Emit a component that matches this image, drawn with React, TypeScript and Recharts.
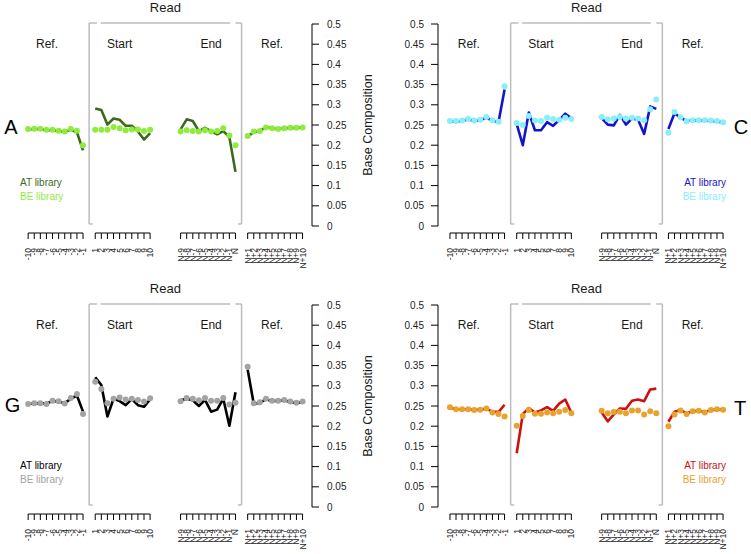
import { ComposedChart, Line, XAxis, YAxis, ReferenceLine, ReferenceDot, Legend } from "recharts";

// positions on the read: 10 before the read, first 10, last 10, 10 after
const tickLabels = [
  "-10", "-9", "-8", "-7", "-6", "-5", "-4", "-3", "-2", "-1",
  "1", "2", "3", "4", "5", "6", "7", "8", "9", "10",
  "N-9", "N-8", "N-7", "N-6", "N-5", "N-4", "N-3", "N-2", "N-1", "N",
  "N+1", "N+2", "N+3", "N+4", "N+5", "N+6", "N+7", "N+8", "N+9", "N+10",
];
const yTicks = [0, 0.05, 0.1, 0.15, 0.2, 0.25, 0.3, 0.35, 0.4, 0.45, 0.5];
const regionNames = ["Ref.", "Start", "End", "Ref."];
const libraryNames = ["AT library", "BE library"];

// base composition per position (4 blocks of 10)
const aAt = [
  0.239, 0.240, 0.240, 0.237, 0.237, 0.235, 0.233, 0.238, 0.232, 0.187,
  0.291, 0.287, 0.251, 0.266, 0.263, 0.248, 0.248, 0.234, 0.214, 0.230,
  0.239, 0.264, 0.260, 0.235, 0.243, 0.235, 0.227, 0.235, 0.220, 0.134,
  0.222, 0.232, 0.235, 0.245, 0.242, 0.240, 0.242, 0.243, 0.243, 0.244,
];
const aBe = [
  0.240, 0.241, 0.241, 0.238, 0.238, 0.236, 0.234, 0.240, 0.236, 0.200,
  0.238, 0.238, 0.238, 0.245, 0.242, 0.237, 0.239, 0.239, 0.235, 0.238,
  0.234, 0.237, 0.235, 0.234, 0.237, 0.234, 0.235, 0.242, 0.224, 0.200,
  0.223, 0.234, 0.235, 0.244, 0.242, 0.240, 0.242, 0.243, 0.243, 0.244,
];
const cAt = [
  0.259, 0.259, 0.260, 0.264, 0.260, 0.262, 0.268, 0.261, 0.257, 0.338,
  0.252, 0.200, 0.281, 0.237, 0.237, 0.257, 0.248, 0.262, 0.278, 0.267,
  0.267, 0.251, 0.249, 0.275, 0.251, 0.266, 0.263, 0.228, 0.296, 0.290,
  0.240, 0.279, 0.268, 0.260, 0.261, 0.262, 0.261, 0.260, 0.259, 0.256,
];
const cBe = [
  0.260, 0.260, 0.261, 0.265, 0.261, 0.263, 0.270, 0.262, 0.258, 0.346,
  0.255, 0.250, 0.272, 0.261, 0.260, 0.268, 0.265, 0.263, 0.268, 0.265,
  0.270, 0.264, 0.266, 0.270, 0.266, 0.268, 0.266, 0.262, 0.289, 0.313,
  0.231, 0.282, 0.269, 0.259, 0.262, 0.262, 0.262, 0.261, 0.260, 0.257,
];
const gAt = [
  0.255, 0.256, 0.257, 0.256, 0.262, 0.261, 0.257, 0.268, 0.276, 0.236,
  0.321, 0.302, 0.224, 0.268, 0.262, 0.252, 0.267, 0.252, 0.248, 0.266,
  0.264, 0.268, 0.264, 0.250, 0.265, 0.236, 0.241, 0.268, 0.201, 0.284,
  0.340, 0.255, 0.258, 0.267, 0.262, 0.263, 0.264, 0.260, 0.257, 0.260,
];
const gBe = [
  0.255, 0.257, 0.257, 0.255, 0.263, 0.262, 0.256, 0.270, 0.280, 0.230,
  0.310, 0.292, 0.257, 0.268, 0.271, 0.266, 0.268, 0.265, 0.261, 0.269,
  0.262, 0.270, 0.268, 0.264, 0.270, 0.263, 0.263, 0.270, 0.254, 0.258,
  0.347, 0.257, 0.259, 0.268, 0.263, 0.263, 0.265, 0.261, 0.258, 0.261,
];
const tAt = [
  0.246, 0.242, 0.242, 0.242, 0.240, 0.241, 0.243, 0.236, 0.235, 0.253,
  0.133, 0.230, 0.245, 0.234, 0.239, 0.247, 0.238, 0.256, 0.266, 0.234,
  0.234, 0.212, 0.229, 0.244, 0.243, 0.263, 0.266, 0.262, 0.291, 0.293,
  0.211, 0.236, 0.240, 0.232, 0.237, 0.238, 0.235, 0.240, 0.241, 0.241,
];
const tBe = [
  0.247, 0.242, 0.242, 0.242, 0.240, 0.241, 0.244, 0.234, 0.230, 0.224,
  0.201, 0.225, 0.240, 0.231, 0.231, 0.234, 0.232, 0.236, 0.240, 0.232,
  0.238, 0.232, 0.235, 0.236, 0.232, 0.239, 0.239, 0.229, 0.237, 0.232,
  0.200, 0.229, 0.239, 0.230, 0.237, 0.238, 0.234, 0.240, 0.242, 0.241,
];

// x slots where each block starts (gaps between blocks)
const blockStart = [0, 11, 25, 36];
const tickSlots = blockStart.flatMap(s => Array.from({ length: 10 }, (_, i) => s + i));

function buildRows(at: number[], be: number[]) {
  const rows: { u: number; at: number | null; be: number | null }[] = [];
  blockStart.forEach((s, k) => {
    for (let i = 0; i < 10; i++) rows.push({ u: s + i, at: at[k * 10 + i], be: be[k * 10 + i] });
    if (k < blockStart.length - 1) rows.push({ u: s + 10, at: null, be: null });
  });
  return rows;
}

const FONT = "'Liberation Sans', Arial, Helvetica, sans-serif";
const BRACKET = "#bdbdbd";

function SegTick(props: any) {
  const { x, y, payload, step } = props;
  const idx = tickSlots.indexOf(payload.value);
  const last = idx % 10 === 9;
  const ly = y + 22;
  return (
    <g>
      {!last && <line x1={x} x2={x + step} y1={y + 7} y2={y + 7} stroke="#000" strokeWidth={1} />}
      <line x1={x} x2={x} y1={y + 7} y2={y + 13} stroke="#000" strokeWidth={1} />
      <text
        x={x}
        y={ly}
        dy="0.35em"
        transform={`rotate(-90, ${x}, ${ly})`}
        textAnchor="end"
        fontSize={8.5}
        fill="#222"
        fontFamily={FONT}
      >
        {tickLabels[idx]}
      </text>
    </g>
  );
}

type PanelProps = {
  letter: string;
  at: number[];
  be: number[];
  atColor: string;
  beColor: string;
  axisRight: boolean;
  top: number;
  height: number;
  letterU: number;
  letterV: number;
  legendTop: number;
};

function Panel(p: PanelProps) {
  const rows = buildRows(p.at, p.be);
  const width = p.axisRight ? 375 : 376;
  const left = p.axisRight ? 0 : 375;
  const margin = p.axisRight
    ? { top: 24, right: 3, left: 19, bottom: p.height - 226 - 45 }
    : { top: 24, right: 16, left: 8, bottom: p.height - 226 - 45 };
  const domain: [number, number] = p.axisRight ? [-1.5, 46.55] : [-1.97, 46.97];
  const plotW = p.axisRight ? 293 : 297;
  const step = plotW / (domain[1] - domain[0]);
  const textLabel = (value: string, size: number, extra: any = {}) => ({
    value, position: "center" as const, fontSize: size, fill: "#1a1a1a", fontFamily: FONT, ...extra,
  });

  return (
    <div style={{ position: "absolute", left, top: p.top }}>
      <ComposedChart width={width} height={p.height} data={rows} margin={margin}>
        <XAxis
          dataKey="u"
          type="number"
          domain={domain}
          allowDataOverflow
          ticks={tickSlots}
          interval={0}
          axisLine={false}
          tickLine={false}
          tickSize={0}
          tickMargin={0}
          height={45}
          tick={(t: any) => <SegTick {...t} step={step} />}
        />
        <YAxis
          type="number"
          orientation={p.axisRight ? "right" : "left"}
          domain={[0, 0.5]}
          ticks={yTicks}
          interval={0}
          width={p.axisRight ? 60 : 55}
          tickSize={7}
          tickMargin={p.axisRight ? 8 : 7}
          axisLine={{ stroke: "#000" }}
          tickLine={{ stroke: "#000" }}
          tick={{ fontSize: 10, fill: "#222", fontFamily: FONT }}
        />

        {/* "Read" bracket */}
        <ReferenceLine segment={[{ x: 10, y: 0.005 }, { x: 10, y: 0.5025 }]} stroke={BRACKET} strokeWidth={1.5} ifOverflow="visible" />
        <ReferenceLine segment={[{ x: 35, y: 0.005 }, { x: 35, y: 0.5025 }]} stroke={BRACKET} strokeWidth={1.5} ifOverflow="visible" />
        <ReferenceLine segment={[{ x: 10, y: 0.5025 }, { x: 11.3, y: 0.5025 }]} stroke={BRACKET} strokeWidth={1.5} ifOverflow="visible" />
        <ReferenceLine segment={[{ x: 11.9, y: 0.5025 }, { x: 33.1, y: 0.5025 }]} stroke={BRACKET} strokeWidth={1.5} ifOverflow="visible" />
        <ReferenceLine segment={[{ x: 34, y: 0.5025 }, { x: 35, y: 0.5025 }]} stroke={BRACKET} strokeWidth={1.5} ifOverflow="visible" />
        <ReferenceLine segment={[{ x: 10, y: 0.005 }, { x: 10.6, y: 0.005 }]} stroke={BRACKET} strokeWidth={1.5} ifOverflow="visible" />
        <ReferenceLine segment={[{ x: 34.4, y: 0.005 }, { x: 35, y: 0.005 }]} stroke={BRACKET} strokeWidth={1.5} ifOverflow="visible" />

        <ReferenceDot x={22.5} y={0.54} r={0} fill="none" stroke="none" ifOverflow="visible" label={textLabel("Read", 13)} />
        {regionNames.map((name, i) => (
          <ReferenceDot key={i} x={[3.1, 15, 30, 40][i]} y={0.45} r={0} fill="none" stroke="none" ifOverflow="visible" label={textLabel(name, 12)} />
        ))}
        <ReferenceDot x={p.letterU} y={p.letterV} r={0} fill="none" stroke="none" ifOverflow="visible" label={textLabel(p.letter, 20, { fill: "#000" })} />
        {p.axisRight && (
          <ReferenceDot x={55.6} y={0.25} r={0} fill="none" stroke="none" ifOverflow="visible" label={textLabel("Base Composition", 12.5, { angle: -90 })} />
        )}

        <Line
          dataKey="at"
          stroke={p.atColor}
          strokeWidth={2.6}
          strokeLinejoin="round"
          dot={false}
          activeDot={false}
          connectNulls={false}
          isAnimationActive={false}
        />
        <Line
          dataKey="be"
          stroke="none"
          dot={{ r: 3, fill: p.beColor, stroke: "none" }}
          activeDot={false}
          connectNulls={false}
          isAnimationActive={false}
        />
        <Legend
          layout="vertical"
          align="center"
          verticalAlign="middle"
          wrapperStyle={{ left: p.axisRight ? 20 : 271, top: p.legendTop, width: 80, margin: 0 }}
          content={() => (
            <div style={{ fontFamily: FONT, fontSize: 10, lineHeight: "13.5px", textAlign: p.axisRight ? "left" : "right" }}>
              <div style={{ color: p.atColor }}>{libraryNames[0]}</div>
              <div style={{ color: p.beColor }}>{libraryNames[1]}</div>
            </div>
          )}
        />
      </ComposedChart>
    </div>
  );
}

export default function App() {
  return (
    <div style={{ position: "absolute", left: 0, top: 0, width: 751, height: 554, background: "#fff", fontFamily: FONT }}>
      <Panel letter="A" at={aAt} be={aBe} atColor="#3b6a1d" beColor="#8fec3f" axisRight top={0} height={277} letterU={-2.84} letterV={0.245} legendTop={176} />
      <Panel letter="C" at={cAt} be={cBe} atColor="#1414cc" beColor="#88eefa" axisRight={false} top={0} height={277} letterU={47.95} letterV={0.246} legendTop={176} />
      <Panel letter="G" at={gAt} be={gBe} atColor="#000000" beColor="#a3a3a3" axisRight top={281} height={273} letterU={-2.56} letterV={0.252} legendTop={178} />
      <Panel letter="T" at={tAt} be={tBe} atColor="#cc1010" beColor="#e8a22e" axisRight={false} top={281} height={273} letterU={47.8} letterV={0.246} legendTop={178} />
    </div>
  );
}
